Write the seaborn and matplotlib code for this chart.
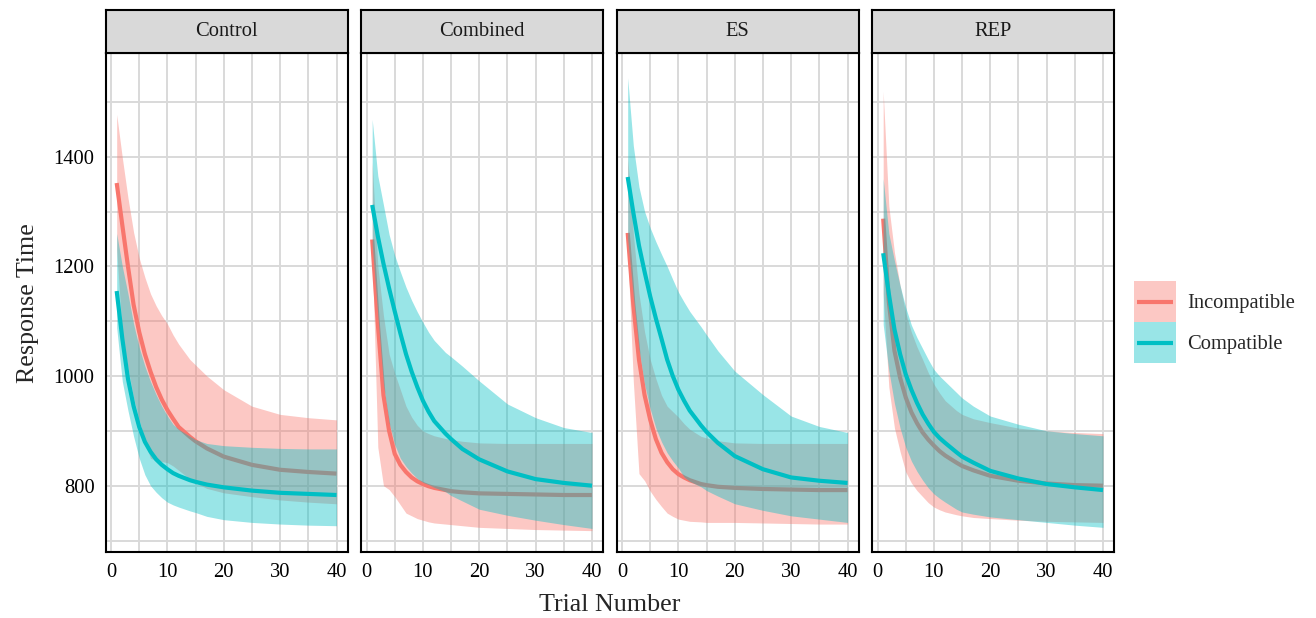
import numpy as np
import pandas as pd
import matplotlib
matplotlib.use("Agg")
import matplotlib.pyplot as plt
import seaborn as sns
from matplotlib.patches import Rectangle
from matplotlib.lines import Line2D
from matplotlib.legend_handler import HandlerBase

# ---------------- data ----------------
panels = ["Control", "Combined", "ES", "REP"]
conditions = ["Incompatible", "Compatible"]
colors = {"Incompatible": "#F8766D", "Compatible": "#00BFC4"}
trials = [1, 2, 3, 4, 5, 6, 7, 8, 9, 10, 11, 12, 14, 15, 17, 20, 25, 30, 35, 40]

control_inc_mean = [1352, 1275, 1200, 1130, 1080, 1040, 1008, 980, 957, 938, 922, 907, 889, 881, 868, 853, 838, 829, 825, 822]
control_inc_lo   = [1230, 1075, 1015, 960, 920, 880, 850, 846, 844, 842, 836, 828, 812, 805, 795, 787, 780, 774, 770, 767]
control_inc_hi   = [1477, 1398, 1325, 1262, 1215, 1180, 1150, 1128, 1110, 1095, 1075, 1058, 1030, 1020, 1000, 975, 945, 930, 924, 920]
control_com_mean = [1155, 1068, 995, 945, 907, 880, 862, 848, 838, 830, 823, 818, 810, 807, 802, 797, 791, 787, 785, 783]
control_com_lo   = [1088, 990, 937, 890, 850, 820, 800, 788, 778, 770, 765, 761, 754, 751, 744, 738, 733, 730, 728, 727]
control_com_hi   = [1260, 1200, 1150, 1095, 1052, 1018, 990, 966, 945, 927, 912, 903, 890, 884, 877, 873, 870, 868, 867, 867]

combined_inc_mean = [1249, 1095, 965, 900, 858, 838, 825, 815, 808, 803, 799, 796, 792, 790, 788, 786, 785, 784, 783, 783]
combined_inc_lo   = [1230, 870, 800, 793, 780, 765, 750, 745, 740, 737, 734, 732, 730, 729, 727, 724, 722, 720, 719, 718]
combined_inc_hi   = [1390, 1200, 1110, 1040, 1005, 975, 945, 925, 910, 900, 895, 891, 886, 884, 881, 878, 877, 877, 877, 877]
combined_com_mean = [1312, 1255, 1205, 1160, 1118, 1078, 1040, 1008, 980, 955, 935, 918, 895, 885, 867, 848, 826, 812, 805, 800]
combined_com_lo   = [1240, 1110, 985, 915, 875, 850, 835, 823, 813, 806, 802, 797, 789, 782, 772, 757, 746, 737, 729, 722]
combined_com_hi   = [1468, 1365, 1312, 1258, 1220, 1190, 1162, 1138, 1117, 1098, 1080, 1065, 1043, 1035, 1018, 991, 949, 924, 906, 897]

es_inc_mean = [1261, 1130, 1030, 965, 920, 885, 860, 843, 830, 821, 815, 810, 803, 801, 798, 796, 794, 793, 792, 792]
es_inc_lo   = [1230, 990, 822, 809, 790, 775, 762, 750, 744, 739, 737, 735, 734, 733, 733, 733, 732, 731, 730, 730]
es_inc_hi   = [1400, 1260, 1150, 1080, 1030, 995, 965, 945, 935, 925, 913, 903, 890, 887, 882, 878, 877, 877, 877, 877]
es_com_mean = [1363, 1298, 1238, 1190, 1145, 1105, 1068, 1030, 1000, 975, 955, 937, 910, 898, 878, 854, 830, 815, 809, 805]
es_com_lo   = [1250, 1145, 1050, 985, 940, 905, 880, 860, 845, 832, 816, 808, 798, 791, 781, 767, 755, 745, 739, 733]
es_com_hi   = [1544, 1420, 1345, 1300, 1270, 1245, 1222, 1200, 1176, 1153, 1135, 1118, 1090, 1075, 1046, 1009, 966, 927, 908, 897]

rep_inc_mean = [1287, 1135, 1046, 997, 961, 934, 914, 897, 884, 873, 863, 855, 842, 836, 828, 818, 809, 804, 801, 800]
rep_inc_lo   = [1150, 980, 905, 862, 825, 805, 791, 780, 769, 761, 756, 752, 747, 745, 742, 740, 737, 735, 734, 733]
rep_inc_hi   = [1519, 1310, 1225, 1165, 1115, 1080, 1053, 1030, 1006, 985, 969, 955, 937, 930, 922, 915, 905, 900, 897, 895]
rep_com_mean = [1224, 1150, 1085, 1040, 1003, 975, 951, 930, 913, 898, 887, 878, 861, 853, 842, 827, 813, 803, 797, 792]
rep_com_lo   = [1094, 1010, 950, 905, 870, 845, 826, 810, 796, 785, 777, 770, 757, 752, 748, 743, 738, 733, 728, 724]
rep_com_hi   = [1360, 1260, 1210, 1165, 1125, 1093, 1070, 1050, 1030, 1012, 1000, 990, 970, 960, 945, 927, 912, 900, 895, 891]

y_ticks = [800, 1000, 1200, 1400]
x_ticks = [0, 10, 20, 30, 40]

series = {
    ("Control", "Incompatible"): (control_inc_mean, control_inc_lo, control_inc_hi),
    ("Control", "Compatible"): (control_com_mean, control_com_lo, control_com_hi),
    ("Combined", "Incompatible"): (combined_inc_mean, combined_inc_lo, combined_inc_hi),
    ("Combined", "Compatible"): (combined_com_mean, combined_com_lo, combined_com_hi),
    ("ES", "Incompatible"): (es_inc_mean, es_inc_lo, es_inc_hi),
    ("ES", "Compatible"): (es_com_mean, es_com_lo, es_com_hi),
    ("REP", "Incompatible"): (rep_inc_mean, rep_inc_lo, rep_inc_hi),
    ("REP", "Compatible"): (rep_com_mean, rep_com_lo, rep_com_hi),
}

rows = []
for (p, c), (m, lo, hi) in series.items():
    for t, a, b, d in zip(trials, m, lo, hi):
        rows.append({"panel": p, "condition": c, "trial": t, "rt": a, "lo": b, "hi": d})
df = pd.DataFrame(rows)


class KeyHandler(HandlerBase):
    def create_artists(self, legend, orig_handle, xdescent, ydescent, width, height,
                       fontsize, trans):
        col = orig_handle.get_color()
        r = Rectangle((-xdescent, -ydescent), width, height, facecolor=col, alpha=0.4,
                      edgecolor="none", transform=trans)
        ymid = -ydescent + height / 2
        ln = Line2D([-xdescent + 0.08 * width, -xdescent + 0.92 * width], [ymid, ymid],
                    color=col, lw=3.0, solid_capstyle="butt", transform=trans)
        return [r, ln]


# ---------------- style ----------------
sns.set_style("white")
plt.rcParams["font.family"] = ["Liberation Serif", "DejaVu Serif"]
W, H = 1316, 618
fig = plt.figure(figsize=(W / 100, H / 100), dpi=100)

FS = 14.8
GRID = "#D9D9D9"
left0, pw, gap = 105.7, 241.8, 13.7
ptop, pbot = 53.3, 552.3
stop = 10.0

for i, p in enumerate(panels):
    x0 = left0 + i * (pw + gap)
    ax = fig.add_axes([x0 / W, 1 - pbot / H, pw / W, (pbot - ptop) / H])
    sub = df[df.panel == p]
    z = 2
    for c in conditions:
        s = sub[sub.condition == c]
        ax.fill_between(s["trial"], s["lo"], s["hi"], color=colors[c], alpha=0.4,
                        linewidth=0, zorder=z)
        sns.lineplot(data=s, x="trial", y="rt", color=colors[c], lw=3.0, ax=ax,
                     zorder=z + 1, legend=False, solid_capstyle="butt",
                     solid_joinstyle="round")
        z += 2
    ax.set_xlim(-0.95, 41.95)
    ax.set_ylim(678.5, 1588.6)
    ax.set_xticks(x_ticks)
    ax.set_xticks([5, 15, 25, 35], minor=True)
    ax.set_yticks(y_ticks)
    ax.set_yticks([700, 900, 1100, 1300, 1500], minor=True)
    ax.grid(True, which="both", color=GRID, lw=1.4, zorder=0)
    ax.set_axisbelow(True)
    ax.tick_params(axis="both", which="major", length=5, width=1.3, color="black",
                   labelsize=FS, labelcolor="black", pad=3)
    ax.tick_params(axis="both", which="minor", length=0)
    if i > 0:
        ax.tick_params(axis="y", which="major", length=0, labelleft=False)
    ax.set_xlabel("")
    ax.set_ylabel("")
    for sp in ax.spines.values():
        sp.set_color("black")
        sp.set_linewidth(1.5)
        sp.set_zorder(10)

    sax = fig.add_axes([x0 / W, 1 - ptop / H, pw / W, (ptop - stop) / H])
    sax.set_facecolor("#D9D9D9")
    sax.set_xticks([])
    sax.set_yticks([])
    for sp in sax.spines.values():
        sp.set_color("black")
        sp.set_linewidth(1.5)
    sax.text(0.5, 0.5, p, ha="center", va="center", fontsize=FS, color="#1A1A1A",
             transform=sax.transAxes)

fig.text((left0 + (4 * pw + 3 * gap) / 2) / W, 1 - 605 / H, "Trial Number",
         ha="center", va="center", fontsize=18.7)
fig.text(28 / W, 1 - 303 / H, "Response Time", ha="center", va="center",
         rotation=90, fontsize=18.7)

handles = [Line2D([0], [0], color=colors[c]) for c in conditions]
fs_px = FS * 100 / 72
hh = (41 / fs_px - 0.245) / 0.65
leg = fig.legend(handles, conditions, loc="upper left",
                 bbox_to_anchor=(1134 / W, 1 - 281 / H),
                 handler_map={Line2D: KeyHandler()},
                 frameon=False, fontsize=FS, handlelength=42 / fs_px,
                 handleheight=hh, handletextpad=0.55, labelspacing=0.0,
                 borderpad=0, borderaxespad=0)

fig.savefig("out.png", dpi=100)
